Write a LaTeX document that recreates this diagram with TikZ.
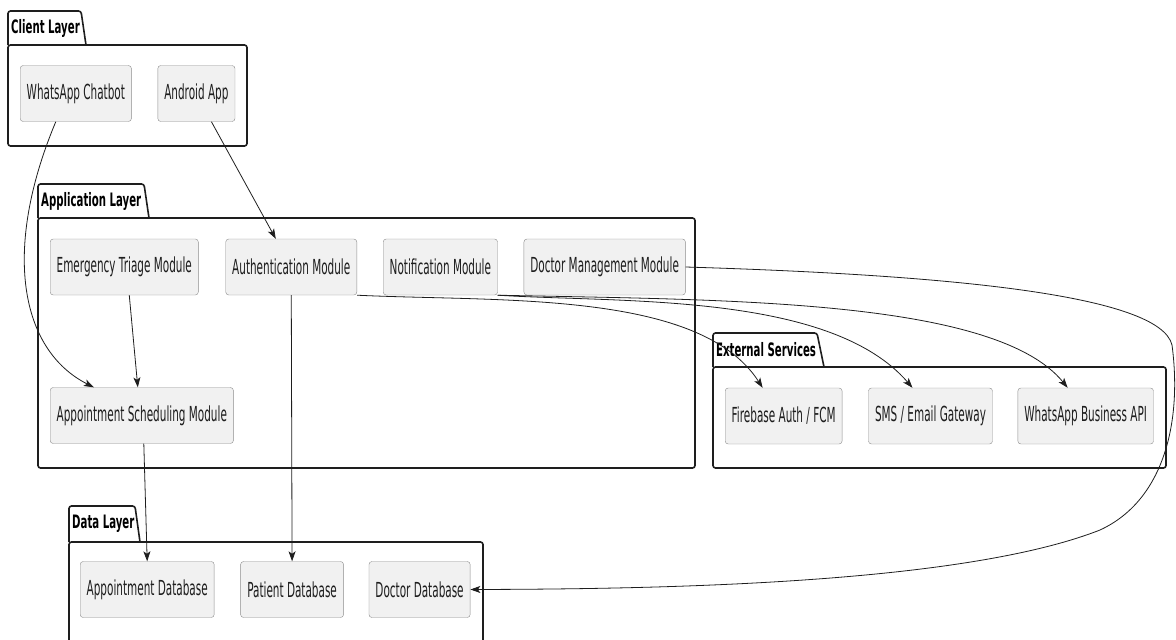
\documentclass[tikz,border=0pt]{standalone}
\usepackage{fontspec}
\newfontfamily\modfont{DejaVu Sans}[FakeStretch=0.505]
\newfontfamily\pkgfont{DejaVu Sans}[FakeStretch=0.55]
\usetikzlibrary{arrows.meta, positioning}
\definecolor{modfill}{HTML}{F1F1F1}
\definecolor{modedge}{HTML}{8C8C8C}
\definecolor{ink}{HTML}{1E1E1E}
\tikzset{
  comp/.style={rectangle,draw=modedge,fill=modfill,rounded corners=3pt,align=center,
    inner xsep=6.5pt,minimum height=56pt,text=ink,font=\modfont\fontsize{20.7}{24}\selectfont},
  pkg/.style={draw=ink,line width=1.6pt,rounded corners=2.5pt},
  pkglabel/.style={inner sep=0pt,anchor=west,font=\pkgfont\bfseries\fontsize{18.5}{22}\selectfont},
  line/.style={-{Stealth[length=10pt,width=7pt,inset=2.5pt]},line width=0.8pt,draw=ink}
}

\begin{document}
\begin{tikzpicture}[x=1pt,y=-1pt]
\useasboundingbox (0,0) rectangle (1176,640);
% layers
\draw[pkg] (8,45) rectangle (247,146);
\draw[pkg] (8,45) -- (8,11) -- (81,11) -- (86,45);
\node[pkglabel] (clientlbl) at (11,28) {Client Layer};
\draw[pkg] (38,218) rectangle (695,468);
\draw[pkg] (38,218) -- (38,184) -- (144,184) -- (149,218);
\node[pkglabel] (applbl) at (41,201) {Application Layer};
\draw[pkg] (713,367) rectangle (1166,468);
\draw[pkg] (713,367) -- (713,333) -- (817,333) -- (824,367);
\node[pkglabel] (extlbl) at (716,350) {External Services};
\draw[pkg] (69,542) rectangle (483,670);
\draw[pkg] (69,542) -- (69,506) -- (135,506) -- (140,542);
\node[pkglabel] (datalbl) at (72,524) {Data Layer};
% client layer
\node[comp, anchor=west] (chatbot) at (20,93.5) {WhatsApp Chatbot};
\node[comp, right=26pt of chatbot] (android) {Android App};
% application layer
\node[comp, anchor=west] (triage) at (50,267) {Emergency Triage Module};
\node[comp, right=27pt of triage] (auth) {Authentication Module};
\node[comp, right=26pt of auth] (notif) {Notification Module};
\node[comp, right=26pt of notif] (docmgmt) {Doctor Management Module};
\node[comp, anchor=west] (sched) at (50,415.5) {Appointment Scheduling Module};
% external services
\node[comp, anchor=west] (firebase) at (725,416) {Firebase Auth / FCM};
\node[comp, right=26pt of firebase] (sms) {SMS / Email Gateway};
\node[comp, right=25pt of sms] (waapi) {WhatsApp Business API};
% data layer
\node[comp, anchor=west] (apptdb) at (80,589.5) {Appointment Database};
\node[comp, right=26pt of apptdb, minimum width=103pt] (patientdb) {Patient Database};
\node[comp, right=25pt of patientdb] (doctordb) {Doctor Database};
% connectors
\draw[line] ([xshift=-20pt]chatbot.south) .. controls (2,250) and (20,350) .. ([xshift=-48pt]sched.north);
\draw[line] ([xshift=15pt]android.south) -- ([xshift=-15.5pt]auth.north);
\draw[line] ([xshift=5pt]triage.south) -- ([xshift=-4pt]sched.north);
\draw[line] ([xshift=2pt]sched.south) -- (apptdb.north);
\draw[line] (auth.south) -- (patientdb.north);
\draw[line] (auth.south east) .. controls (500,302) and (700,290) .. ([xshift=-21pt]firebase.north);
\draw[line] (notif.south east) .. controls (620,303) and (830,292) .. ([xshift=-18pt]sms.north);
\draw[line] (notif.south east) .. controls (720,300) and (995,298) .. ([xshift=-18pt]waapi.north);
\draw[line] (docmgmt.east) .. controls (950,275) and (1160,295) .. (1172,345)
  .. controls (1182,420) and (1165,500) .. (1100,530)
  .. controls (960,585) and (650,589) .. (doctordb.east);
\end{tikzpicture}
\end{document}
